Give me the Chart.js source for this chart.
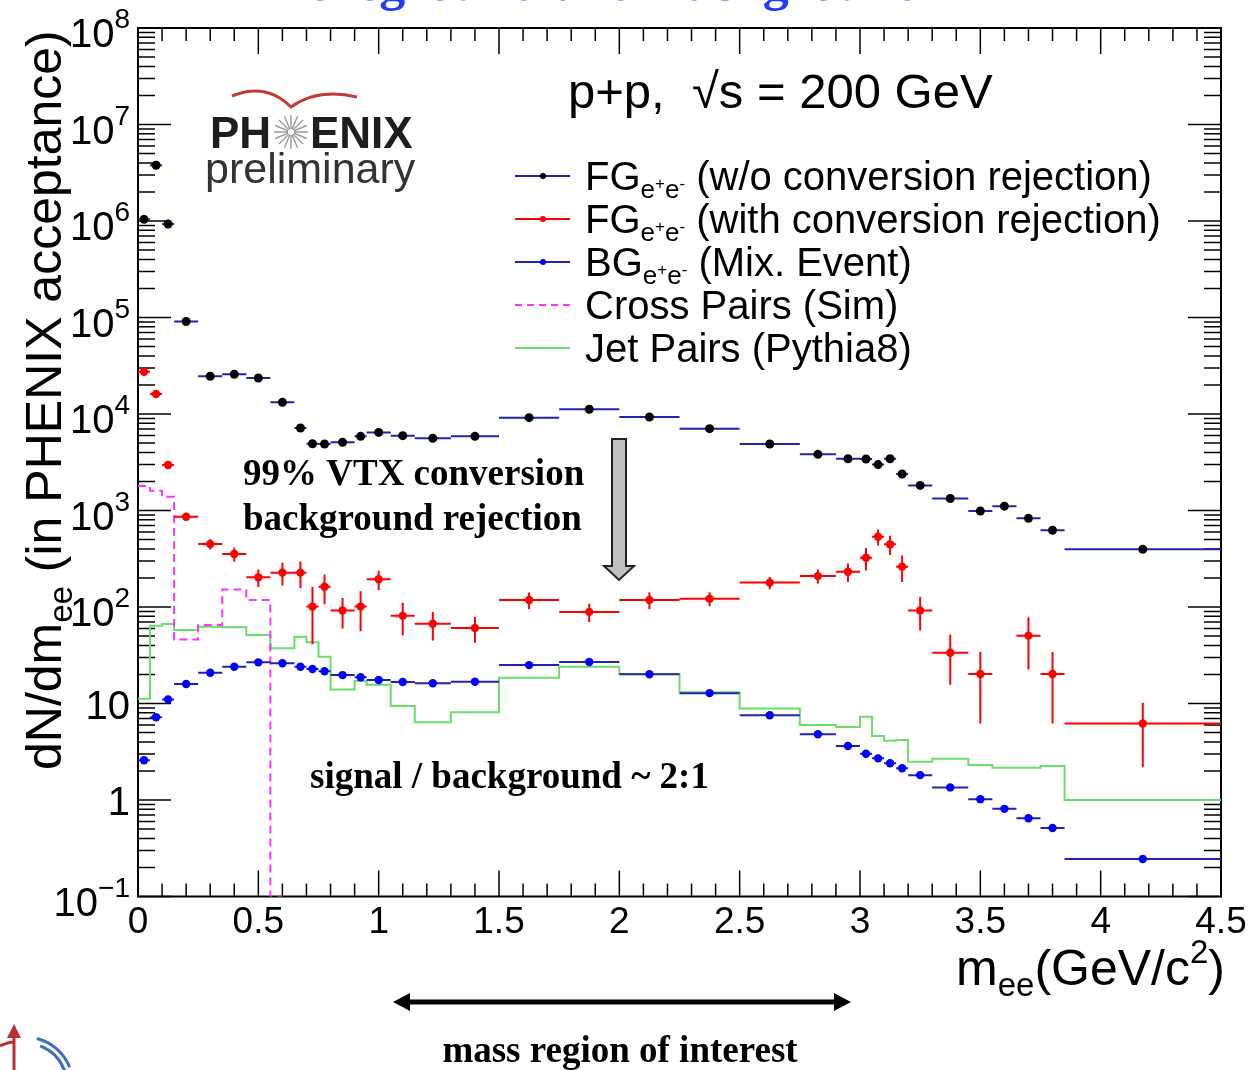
<!DOCTYPE html>
<html>
<head>
<meta charset="utf-8">
<script src="https://cdn.jsdelivr.net/npm/chart.js@4.4.1/dist/chart.umd.min.js"></script>
<style>
  html, body { margin: 0; padding: 0; background: #fff; }
  canvas { display: block; }
</style>
</head>
<body>
<canvas id="spectrum" width="1253" height="1070"></canvas>
<script>
const Y_MIN = 0.1
const Y_MAX = 1e8

// mass bins (GeV/c^2), shared by all measured spectra
const binEdges = [0, 0.05, 0.1, 0.15, 0.25, 0.35, 0.45, 0.55, 0.65, 0.7, 0.75, 0.8, 0.9, 0.95,
  1.05, 1.15, 1.3, 1.5, 1.75, 2.0, 2.25, 2.5, 2.75, 2.9, 3.0, 3.05, 3.1, 3.15, 3.2, 3.3,
  3.45, 3.55, 3.65, 3.75, 3.85, 4.5]

// foreground, no conversion rejection
const fgNoRejection = [1.04e6, 3.78e6, 9.3e5, 9.1e4, 2.46e4, 2.58e4, 2.36e4, 1.32e4, 7160, 4920,
  4890, 5090, 5870, 6450, 5960, 5600, 5870, 9160, 11200, 9310, 7050, 4890, 3820, 3440, 3420,
  2990, 3440, 2390, 1820, 1330, 988, 1110, 830, 624, 396]

// foreground after VTX conversion rejection (null = empty bin)
const fgWithRejection = [2.74e4, 1.61e4, 2965, 863, 450, 354, 203, 227, 227, 101, 162, 92, 101,
  194, 81, 67, 60.6, 118, 89, 118, 122, 179, 209, 232, 324, 535, 446, 262, 92, 33.6, 20.2,
  null, 50.5, 20.2, 6.2]
const fgWithRejectionErr = [1000, 800, 150, 60, 55, 60, 42, 60, 70, 60, 55, 32, 45, 44, 30, 22,
  18, 23, 19, 23, 20, 26, 35, 50, 85, 100, 100, 80, 35, 18, 14, 0, 28, 14, 4]

// mixed-event background
const bgMixedEvent = [2.58, 7.2, 11.0, 15.9, 20.8, 24.0, 26.7, 26.1, 24.0, 22.8, 21.6, 19.7, 18.7,
  17.5, 16.7, 16.2, 16.8, 25.0, 26.9, 20.1, 12.8, 7.55, 4.8, 3.63, 3.02, 2.7, 2.4, 2.13, 1.81,
  1.35, 1.02, 0.81, 0.646, 0.513, 0.245]

// simulated cross pairs (own binning, empty above 0.55)
const crossEdges = [0, 0.05, 0.1, 0.15, 0.25, 0.35, 0.45, 0.55, 0.6]
const crossPairs = [1795, 1600, 1390, 46, 65, 152, 118, 0]

// Pythia8 jet pairs
const jetPairs = [11.2, 64, 66.7, 57.8, 62.5, 61.6, 51.3, 37.3, 49.2, 43.0, 30.5, 14.0, 17.1, 15.6,
  9.4, 6.4, 8.1, 18.5, 24.0, 20.2, 13.1, 8.9, 5.98, 5.7, 7.3, 4.6, 4.12, 4.19, 2.49, 2.68, 2.31,
  2.16, 2.16, 2.25, 1.0]

const yDecades = [-1, 0, 1, 2, 3, 4, 5, 6, 7, 8]

const SANS = '"Liberation Sans", Arial, sans-serif'
const SERIF = '"Liberation Serif", "Times New Roman", serif'
const NAVY = '#2222aa'

function binPoints(values) {
  return values
    .map((v, i) => v == null ? null : { x: (binEdges[i] + binEdges[i + 1]) / 2, y: v, bin: i })
    .filter(Boolean)
}

function stepPoints(edges, values) {
  const pts = []
  values.forEach((v, i) => {
    const y = v > 0 ? v : Y_MIN
    pts.push({ x: edges[i], y }, { x: edges[i + 1], y })
  })
  return pts
}

// draw a run of text pieces with different sizes / offsets
function runs(c, x, y, parts, align) {
  let w = 0
  parts.forEach(p => { c.font = p.font; w += c.measureText(p.t).width })
  let cx = align === 'right' ? x - w : align === 'center' ? x - w / 2 : x
  c.textAlign = 'left'
  parts.forEach(p => {
    c.font = p.font
    c.fillText(p.t, cx, y + (p.dy || 0))
    cx += c.measureText(p.t).width
  })
  return w
}

// frame with inward ticks, drawn under the data
const frame = {
  id: 'frame',
  beforeDatasetsDraw(chart) {
    const c = chart.ctx, a = chart.chartArea
    const xs = chart.scales.x, ys = chart.scales.y
    c.save()
    c.strokeStyle = '#000'
    c.lineWidth = 2
    c.strokeRect(a.left, a.top, a.right - a.left, a.bottom - a.top)
    c.lineWidth = 1.5
    c.beginPath()
    for (let k = 1; k < 45; k++) {
      const px = xs.getPixelForValue(k / 10)
      const len = k % 5 === 0 ? 26 : 13
      c.moveTo(px, a.bottom); c.lineTo(px, a.bottom - len)
      c.moveTo(px, a.top); c.lineTo(px, a.top + len)
    }
    yDecades.forEach(e => {
      for (let m = 1; m <= 9; m++) {
        const v = m * Math.pow(10, e)
        if (v > Y_MAX) break
        const py = ys.getPixelForValue(v)
        const len = m === 1 ? 33 : 17
        c.moveTo(a.left, py); c.lineTo(a.left + len, py)
        c.moveTo(a.right, py); c.lineTo(a.right - len, py)
      }
    })
    c.stroke()
    c.restore()
  }
}

// horizontal bin-width bars and vertical stat. errors
const errorBars = {
  id: 'errorBars',
  beforeDatasetDraw(chart, args) {
    const ds = chart.data.datasets[args.index]
    if (!ds.errBar) return
    const c = chart.ctx, a = chart.chartArea
    const xs = chart.scales.x, ys = chart.scales.y
    c.save()
    c.beginPath()
    c.rect(a.left, a.top, a.right - a.left, a.bottom - a.top)
    c.clip()
    c.strokeStyle = ds.errBar.color
    c.lineWidth = 2
    c.beginPath()
    ds.data.forEach(p => {
      const py = ys.getPixelForValue(p.y)
      c.moveTo(xs.getPixelForValue(binEdges[p.bin]), py)
      c.lineTo(xs.getPixelForValue(binEdges[p.bin + 1]), py)
      if (ds.errBar.err) {
        const e = ds.errBar.err[p.bin]
        const px = xs.getPixelForValue(p.x)
        c.moveTo(px, ys.getPixelForValue(Math.max(p.y - e, Y_MIN)))
        c.lineTo(px, ys.getPixelForValue(p.y + e))
      }
    })
    c.stroke()
    c.restore()
  }
}

const decor = {
  id: 'decor',
  afterDraw(chart) {
    const c = chart.ctx
    const ys = chart.scales.y
    c.save()

    // y tick labels
    c.fillStyle = '#000'
    c.textBaseline = 'alphabetic'
    yDecades.forEach(e => {
      const py = ys.getPixelForValue(Math.pow(10, e))
      if (e === 0 || e === 1) {
        runs(c, 130, py + 15, [{ t: e ? '10' : '1', font: '40px ' + SANS }], 'right')
      } else {
        const ex = e < 0 ? '\u2212' + (-e) : String(e)
        runs(c, 130, py, [
          { t: '10', font: '40px ' + SANS, dy: 19 },
          { t: ex, font: '28px ' + SANS, dy: 0 }
        ], 'right')
      }
    })

    // axis titles
    runs(c, 1225, 985, [
      { t: 'm', font: '50px ' + SANS },
      { t: 'ee', font: '33px ' + SANS, dy: 11 },
      { t: '(GeV/c', font: '50px ' + SANS },
      { t: '2', font: '33px ' + SANS, dy: -22 },
      { t: ')', font: '50px ' + SANS }
    ], 'right')
    c.save()
    c.translate(61, 770)
    c.rotate(-Math.PI / 2)
    runs(c, 0, 0, [
      { t: 'dN/dm', font: '50px ' + SANS },
      { t: 'ee', font: '33px ' + SANS, dy: 11 },
      { t: ' (in PHENIX acceptance)', font: '50px ' + SANS }
    ], 'left')
    c.restore()

    // slide title, mostly cut by the top edge
    c.fillStyle = '#1f3dff'
    c.font = 'bold 52px ' + SERIF
    c.textAlign = 'center'
    c.fillText('Foreground and Background', 600, 0)

    // collaboration logo
    c.strokeStyle = '#c43a3a'
    c.lineWidth = 3
    c.beginPath()
    c.moveTo(232, 96)
    c.quadraticCurveTo(266, 82, 291, 107)
    c.quadraticCurveTo(318, 88, 357, 97)
    c.stroke()
    c.fillStyle = '#1e1e1e'
    c.font = 'bold 44px ' + SANS
    c.textAlign = 'left'
    c.fillText('PH', 210, 148)
    c.fillText('ENIX', 310, 148)
    c.strokeStyle = '#9a9a9a'
    c.lineWidth = 1.4
    c.beginPath()
    for (let k = 0; k < 16; k++) {
      const ang = k * Math.PI / 8
      c.moveTo(291 + 3 * Math.cos(ang), 132 + 3 * Math.sin(ang))
      c.lineTo(291 + 17 * Math.cos(ang), 132 + 17 * Math.sin(ang))
    }
    c.stroke()
    c.fillStyle = '#333'
    c.font = '43px ' + SANS
    c.fillText('preliminary', 205, 183)

    // collision system
    c.fillStyle = '#000'
    c.font = '49px ' + SANS
    c.fillText('p+p,  \u221As = 200 GeV', 568, 108)

    // legend
    const eSub = [
      { t: 'e', font: '26px ' + SANS, dy: 8 },
      { t: '+', font: '17px ' + SANS, dy: -1 },
      { t: 'e', font: '26px ' + SANS, dy: 8 },
      { t: '-', font: '17px ' + SANS, dy: -1 }
    ]
    const F40 = '40px ' + SANS
    const rows = [
      { line: NAVY, dot: '#000', parts: [{ t: 'FG', font: F40 }, ...eSub, { t: ' (w/o conversion rejection)', font: F40 }] },
      { line: '#ff0000', dot: '#ff0000', parts: [{ t: 'FG', font: F40 }, ...eSub, { t: ' (with conversion rejection)', font: F40 }] },
      { line: NAVY, dot: '#0000ff', parts: [{ t: 'BG', font: F40 }, ...eSub, { t: ' (Mix. Event)', font: F40 }] },
      { line: '#ff33ff', dash: true, parts: [{ t: 'Cross Pairs (Sim)', font: F40 }] },
      { line: '#6bdd6b', parts: [{ t: 'Jet Pairs (Pythia8)', font: F40 }] }
    ]
    rows.forEach((r, k) => {
      const base = 190 + 43 * k
      const ly = base - 14
      c.strokeStyle = r.line
      c.lineWidth = 2
      c.setLineDash(r.dash ? [7, 5] : [])
      c.beginPath(); c.moveTo(515, ly); c.lineTo(570, ly); c.stroke()
      c.setLineDash([])
      if (r.dot) {
        c.fillStyle = r.dot
        c.beginPath(); c.arc(543, ly, 3, 0, Math.PI * 2); c.fill()
      }
      c.fillStyle = '#000'
      runs(c, 585, base, r.parts, 'left')
    })

    // conversion rejection note and arrow
    c.font = 'bold 37px ' + SERIF
    c.fillText('99% VTX conversion', 243, 485)
    c.fillText('background rejection', 243, 530)
    c.fillStyle = '#c0c0c0'
    c.strokeStyle = '#222'
    c.lineWidth = 2
    c.beginPath()
    c.moveTo(612, 439); c.lineTo(626, 439); c.lineTo(626, 566); c.lineTo(634, 566)
    c.lineTo(619, 580); c.lineTo(604, 566); c.lineTo(612, 566); c.closePath()
    c.fill(); c.stroke()

    c.fillStyle = '#000'
    c.font = 'bold 37px ' + SERIF
    c.fillText('signal / background ~ 2:1', 310, 788)

    // mass window below the axis
    c.strokeStyle = '#000'
    c.lineWidth = 5
    c.beginPath(); c.moveTo(405, 1002); c.lineTo(839, 1002); c.stroke()
    c.beginPath()
    c.moveTo(393, 1002); c.lineTo(410, 993); c.lineTo(410, 1011); c.closePath()
    c.moveTo(851, 1002); c.lineTo(834, 993); c.lineTo(834, 1011); c.closePath()
    c.fill()
    c.font = 'bold 37px ' + SERIF
    c.textAlign = 'center'
    c.fillText('mass region of interest', 620, 1062)

    // corner emblem
    c.strokeStyle = '#b83030'
    c.fillStyle = '#b83030'
    c.lineWidth = 3
    c.beginPath(); c.moveTo(14, 1070); c.lineTo(14, 1032); c.stroke()
    c.beginPath(); c.moveTo(7, 1038); c.lineTo(14, 1024); c.lineTo(21, 1038); c.closePath(); c.fill()
    c.beginPath(); c.moveTo(0, 1046); c.quadraticCurveTo(8, 1042, 14, 1042); c.stroke()
    c.strokeStyle = '#3a6fc0'
    c.beginPath(); c.arc(25, 1085, 48, -1.32, -0.38); c.stroke()
    c.beginPath(); c.arc(25, 1085, 42, -1.2, -0.3); c.stroke()

    c.restore()
  }
}

new Chart(document.getElementById('spectrum'), {
  type: 'scatter',
  data: {
    datasets: [
      {
        label: 'FG w/o conversion rejection',
        data: binPoints(fgNoRejection),
        backgroundColor: '#000',
        borderWidth: 0,
        pointRadius: 4.5,
        errBar: { color: NAVY }
      },
      {
        label: 'FG with conversion rejection',
        data: binPoints(fgWithRejection),
        backgroundColor: '#ff0000',
        borderWidth: 0,
        pointRadius: 4.2,
        errBar: { color: '#ff0000', err: fgWithRejectionErr }
      },
      {
        label: 'BG mixed event',
        data: binPoints(bgMixedEvent),
        backgroundColor: '#0000ff',
        borderWidth: 0,
        pointRadius: 4.2,
        errBar: { color: NAVY }
      },
      {
        type: 'line',
        label: 'Cross pairs',
        data: stepPoints(crossEdges, crossPairs),
        borderColor: '#ff33ff',
        borderWidth: 2,
        borderDash: [8, 5],
        pointRadius: 0,
        fill: false,
        tension: 0
      },
      {
        type: 'line',
        label: 'Jet pairs',
        data: stepPoints(binEdges, jetPairs),
        borderColor: '#6bdd6b',
        borderWidth: 2,
        pointRadius: 0,
        fill: false,
        tension: 0
      }
    ]
  },
  options: {
    responsive: false,
    animation: false,
    layout: { padding: { left: 0, right: 32, top: 28, bottom: 0 } },
    plugins: { legend: { display: false }, tooltip: { enabled: false } },
    scales: {
      x: {
        type: 'linear',
        min: 0,
        max: 4.5,
        grid: { display: false, drawTicks: false },
        border: { display: false },
        ticks: {
          stepSize: 0.5,
          autoSkip: false,
          maxRotation: 0,
          padding: 4,
          color: '#000',
          font: { family: 'Liberation Sans', size: 37 },
          callback: v => String(Math.round(v * 10) / 10)
        },
        afterFit(scale) { scale.height = 173.5 }
      },
      y: {
        type: 'logarithmic',
        min: Y_MIN,
        max: Y_MAX,
        grid: { display: false },
        border: { display: false },
        ticks: { display: false },
        afterFit(scale) { scale.width = 138 }
      }
    }
  },
  plugins: [frame, errorBars, decor]
})
</script>
</body>
</html>
